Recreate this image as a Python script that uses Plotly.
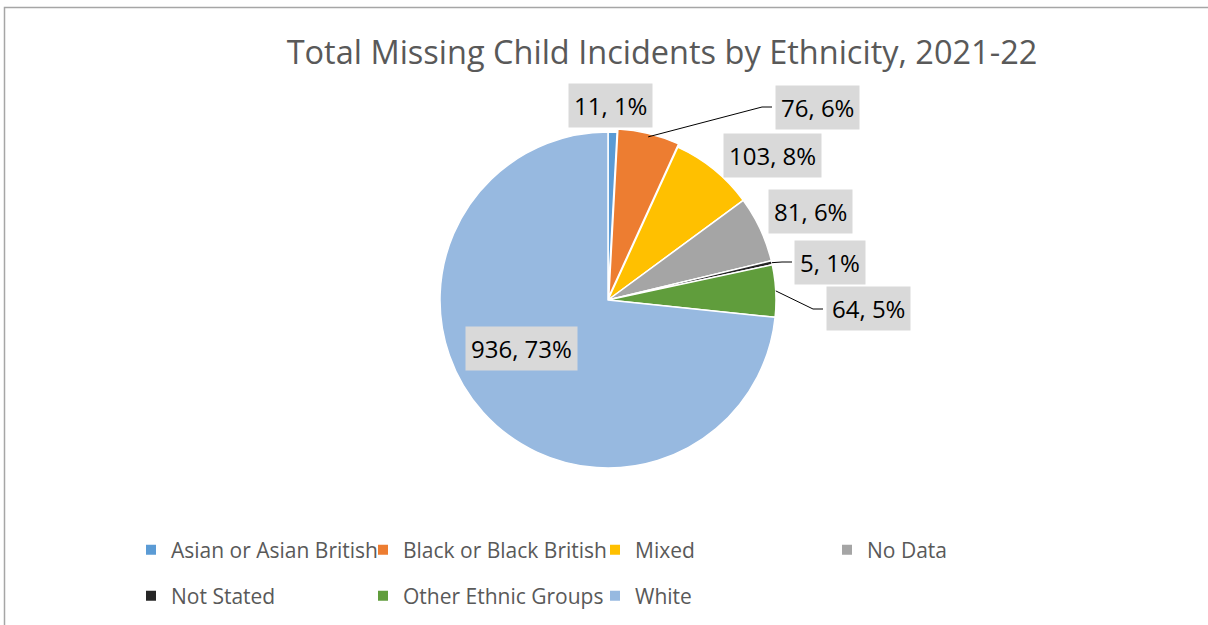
import math
import plotly.graph_objects as go

# ---- data ----
categories = ["Asian or Asian British", "Black or Black British", "Mixed", "No Data",
              "Not Stated", "Other Ethnic Groups", "White"]
incidents = [11, 76, 103, 81, 5, 64, 936]
percent_labels = [1, 6, 8, 6, 1, 5, 73]   # as shown on the chart labels

# ---- styles ----
colors = ["#5B9BD5", "#ED7D31", "#FFC000", "#A5A5A5", "#262626", "#609D3C", "#97B9E0"]
W, H = 1208, 625
CX, CY, R = 608, 300, 168      # pie centre / radius in px
PULL = [0, 0.02, 0, 0, 0, 0, 0]
FONT = "Open Sans"

def px(x):
    return x / W

def py(y):
    return 1 - y / H

span = R * (1 + max(PULL))
fig = go.Figure()
fig.add_trace(go.Pie(
    labels=categories, values=incidents, sort=False, direction="clockwise", rotation=0,
    marker=dict(colors=colors, line=dict(color="white", width=1.5)),
    pull=PULL, textinfo="none", hoverinfo="label+value+percent", showlegend=False,
    domain=dict(x=[px(CX - span), px(CX + span)], y=[py(CY + span), py(CY - span)]),
))

# legend entries (two rows, like the original)
for i, (cat, col) in enumerate(zip(categories, colors)):
    fig.add_trace(go.Scatter(
        x=[None], y=[None], mode="markers", name=cat,
        marker=dict(symbol="square", size=10, color=col),
        legend="legend" if i < 4 else "legend2", hoverinfo="skip",
    ))

# data labels: box centres (px) and whether a leader line is drawn
label_pos = [(611, 105, False), (817, 107, True), (772, 155, False), (810, 211, False),
             (830, 262, True), (868, 309, True), (521, 348, False)]
total = sum(incidents)
cum = 0
annotations = []
shapes = []
for v, p, (lx, ly, leader) in zip(incidents, percent_labels, label_pos):
    mid = (cum + v / 2) / total
    cum += v
    annotations.append(dict(
        x=px(lx), y=py(ly), xref="paper", yref="paper", showarrow=False,
        text=f"{v}, {p}%", font=dict(family=FONT, size=24, color="#000000"),
        bgcolor="#D9D9D9", borderpad=5, xanchor="center", yanchor="middle",
    ))
    if leader:
        ang = 2 * math.pi * mid
        ex, ey = CX + R * math.sin(ang), CY - R * math.cos(ang)
        half_w = {76: 45, 5: 38, 64: 45}.get(v, 44)
        bx = lx - half_w
        shapes.append(dict(type="path", xref="paper", yref="paper",
                           path=f"M{px(ex)},{py(ey)} L{px(bx - 10)},{py(ly)} L{px(bx)},{py(ly)}",
                           line=dict(color="#000000", width=1)))

# chart border
shapes.append(dict(type="rect", xref="paper", yref="paper",
                   x0=px(4.5), y0=py(640), x1=px(1230), y1=py(7.5),
                   line=dict(color="#A6A6A6", width=1.5), layer="below"))

legend_common = dict(orientation="h", xanchor="left", yanchor="middle",
                     font=dict(family=FONT, size=21, color="#595959"),
                     bgcolor="rgba(0,0,0,0)", entrywidth=187, entrywidthmode="pixels",
                     itemclick=False, itemdoubleclick=False)

fig.update_layout(
    width=W, height=H,
    margin=dict(l=0, r=0, t=0, b=0),
    paper_bgcolor="white", plot_bgcolor="white",
    title=dict(text="Total Missing Child Incidents by Ethnicity, 2021-22",
               x=px(662), y=py(53), xanchor="center", yanchor="middle",
               font=dict(family=FONT, size=32.5, color="#595959")),
    xaxis=dict(visible=False), yaxis=dict(visible=False),
    legend=dict(x=px(131), y=py(550), **legend_common),
    legend2=dict(x=px(131), y=py(596), **legend_common),
    annotations=annotations, shapes=shapes,
)

fig.write_html("out.html", config={"displayModeBar": False},
               post_script="document.body.style.margin='0';")
